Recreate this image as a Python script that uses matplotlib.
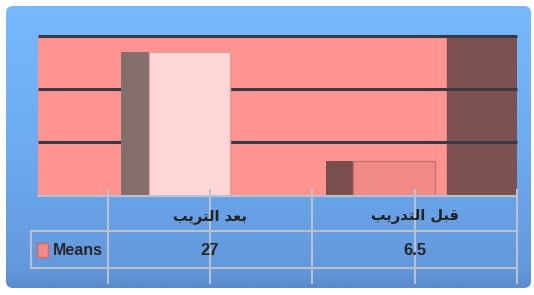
import numpy as np
import matplotlib
matplotlib.use("Agg")
import matplotlib.pyplot as plt
from matplotlib.colors import LinearSegmentedColormap
from matplotlib.patches import FancyBboxPatch, Rectangle
from matplotlib.transforms import blended_transform_factory

# data
categories = ["بعد التريب", "قبل التدريب"]
means = [27, 6.5]
value_labels = ["27", "6.5"]
series_name = "Means"
y_ticks = [10, 20, 30]

# arabic letters -> (isolated, final, initial, medial) presentation forms
FORMS = {
    'ا': ('\ufe8d', '\ufe8e', None, None),
    'ب': ('\ufe8f', '\ufe90', '\ufe91', '\ufe92'),
    'ت': ('\ufe95', '\ufe96', '\ufe97', '\ufe98'),
    'د': ('\ufea9', '\ufeaa', None, None),
    'ر': ('\ufead', '\ufeae', None, None),
    'ع': ('\ufec9', '\ufeca', '\ufecb', '\ufecc'),
    'ق': ('\ufed5', '\ufed6', '\ufed7', '\ufed8'),
    'ل': ('\ufedd', '\ufede', '\ufedf', '\ufee0'),
    'ي': ('\ufef1', '\ufef2', '\ufef3', '\ufef4'),
}


def shape(s):
    # join letters and reverse for right-to-left display
    out = []
    for k, ch in enumerate(s):
        if ch not in FORMS:
            out.append(ch)
            continue
        iso, fin, ini, med = FORMS[ch]
        prev = s[k - 1] if k > 0 else ''
        nxt = s[k + 1] if k + 1 < len(s) else ''
        join_prev = prev in FORMS and FORMS[prev][2] is not None
        join_next = ini is not None and nxt in FORMS
        if join_prev and join_next:
            out.append(med)
        elif join_prev:
            out.append(fin)
        elif join_next:
            out.append(ini)
        else:
            out.append(iso)
    return ''.join(reversed(out))


W, H = 534, 295
fig = plt.figure(figsize=(W / 100, H / 100), dpi=100, facecolor="white")

# blue panel background
bg = fig.add_axes([0, 0, 1, 1])
bg.set_xlim(0, W)
bg.set_ylim(H, 0)
bg.axis("off")
cmap = LinearSegmentedColormap.from_list(
    "panel", [(0, "#76b9fe"), (0.5, "#6eabf0"), (0.93, "#6399dc"), (1, "#5b8bcb")])
grad = np.linspace(0, 1, 256).reshape(-1, 1)
im = bg.imshow(grad, cmap=cmap, aspect="auto", extent=(6, 531, 288, 6), zorder=0)
panel = FancyBboxPatch((6, 6), 525, 282, boxstyle="round,pad=0,rounding_size=7",
                       transform=bg.transData, facecolor="none", edgecolor="none")
bg.add_patch(panel)
im.set_clip_path(panel)

# plot area
left, right, top, bottom = 38, 516.7, 35.5, 195.5
ax = fig.add_axes([left / W, (H - bottom) / H, (right - left) / W, (bottom - top) / H])
ax.set_facecolor("#ff9490")
ax.set_xlim(-0.842, 1.5)
ax.set_ylim(0, 30)
for s in ax.spines.values():
    s.set_visible(False)
ax.set_xticks([])
ax.set_yticks([])

x = np.arange(len(categories))
# right side wall
ax.axvspan(1.159, 1.5, color="#7e5151", zorder=1)
for t in y_ticks:
    ax.axhline(t, color="#3a3a44", lw=2.2, zorder=2, clip_on=False,
               solid_capstyle="butt")

front_colors = ["#ffd6d6", "#f08a86"]
side_colors = ["#836d6d", "#7a4e4c"]
edge_colors = ["#e0a0a0", "#c87272"]
front_w, side_w, shift = 0.398, 0.136, -0.1
ax.bar(x + shift - front_w / 2 - side_w / 2, means, width=side_w,
       color=side_colors, zorder=3)
ax.bar(x + shift, means, width=front_w, color=front_colors,
       edgecolor=edge_colors, linewidth=1, zorder=4)

# data table under the plot
tab = fig.add_axes([0, 0, 1, 1])
tab.set_xlim(0, W)
tab.set_ylim(H, 0)
tab.axis("off")
mix = blended_transform_factory(ax.transData, tab.transData)
line_c = "#b8c2ce"
lw = 1.5
tab.plot([left, right], [196, 196], color=line_c, lw=lw)
tab.plot([31, right], [230.7, 230.7], color=line_c, lw=lw)
tab.plot([31, right], [268.3, 268.3], color=line_c, lw=lw)
tab.plot([31, 31], [230.7, 268.3], color=line_c, lw=lw)
edges = list(x - 0.5) + [x[-1] + 0.5]
for e in edges:
    tab.plot([e, e], [190, 283], color=line_c, lw=lw, transform=mix)
for xi in x:
    tab.plot([xi, xi], [190, 283], color=line_c, lw=lw, transform=mix)

for xi, cat, val in zip(x, categories, value_labels):
    tab.text(xi, 216.5, shape(cat), transform=mix, ha="center", va="center",
             fontsize=10.5, fontweight="bold", color="#222222",
             family=["DejaVu Sans"])
    tab.text(xi, 250.5, val, transform=mix, ha="center", va="center",
             fontsize=12, fontweight="bold", color="#262626",
             family=["Liberation Sans", "DejaVu Sans"])

tab.add_patch(Rectangle((37.3, 243.3), 11, 14, facecolor="#f08a86",
                        edgecolor="#d06a6a", lw=1))
tab.text(52.5, 250.5, series_name, ha="left", va="center", fontsize=11.5,
         fontweight="bold", color="#262626", family=["Liberation Sans", "DejaVu Sans"])

fig.savefig("out.png", dpi=100, facecolor="white")
